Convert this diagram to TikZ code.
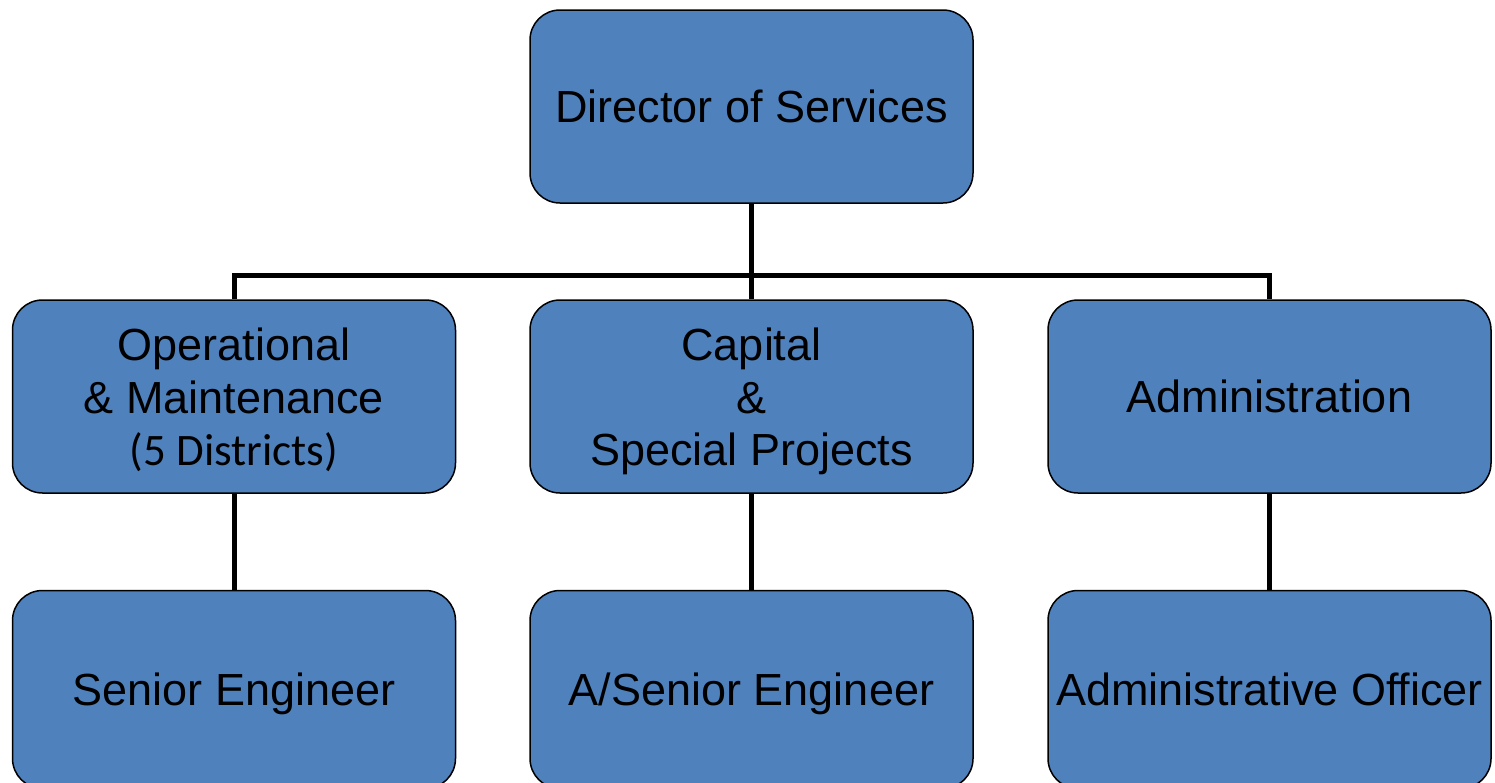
\documentclass[tikz,border=0pt]{standalone}
\usepackage{fontspec}
\setmainfont{Liberation Sans}
\newfontfamily\calfont{Carlito}
\definecolor{boxblue}{HTML}{4F81BD}
\begin{document}
\begin{tikzpicture}[x=1pt,y=-1pt,
  orgbox/.style={draw=black, line width=1.5pt, fill=boxblue, rounded corners=30pt,
    minimum width=443pt, inner sep=0pt, align=center,
    text height=36pt, text depth=4pt,
    font=\fontsize{45}{52.5}\selectfont},
  threeline/.style={text height=141pt, text depth=3pt},
  link/.style={line width=5pt, draw=black}]
\useasboundingbox (0,0) rectangle (1495,782);
\node[orgbox, minimum height=193pt] (dir) at (751.5,106.5) {Director of Services};
\node[orgbox, threeline, minimum height=193pt] (om) at (234,396.5) {Operational\\\& Maintenance\\{\calfont\fontsize{45}{52.5}\selectfont(5 Districts)}};
\node[orgbox, threeline, minimum height=193pt] (cap) at (751.5,396.5) {Capital\\\&\\Special Projects};
\node[orgbox, minimum height=193pt] (adm) at (1269.5,396.5) {Administration};
\node[orgbox, minimum height=198pt] (se) at (234,689.5) {Senior Engineer};
\node[orgbox, minimum height=198pt] (ase) at (751.5,689.5) {A/Senior Engineer};
\node[orgbox, minimum height=198pt] (ao) at (1269.5,689.5) {Administrative Officer};
\coordinate (j) at (751.5,275);
\draw[link] (dir.south) -- (j);
\draw[link] (om.north) -- (om.north |- j) -- (adm.north |- j) -- (adm.north);
\draw[link] (j) -- (cap.north);
\draw[link] (om.south) -- (se.north);
\draw[link] (cap.south) -- (ase.north);
\draw[link] (adm.south) -- (ao.north);
\end{tikzpicture}
\end{document}
